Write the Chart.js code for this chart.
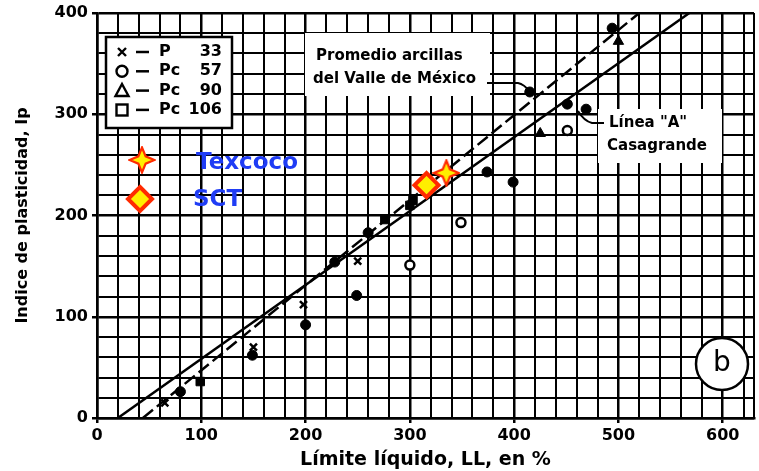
<!DOCTYPE html>
<html>
<head>
  <meta charset="UTF-8">
  <title>Carta de plasticidad</title>
  <script src="https://cdn.jsdelivr.net/npm/chart.js"></script>
  <style>
    body { margin: 0; background: #fff; }
    #carta { display: block; }
  </style>
</head>
<body>
<canvas id="carta" width="759" height="471"></canvas>
<script>
  // Límite líquido (LL) e índice de plasticidad (Ip) de cada grupo
  const lineaA_LL = [20, 568];
  const lineaA_Ip = [0, 400];
  const promedio_LL = [44, 520];
  const promedio_Ip = [0, 400];

  const p33_LL = [65, 150, 198, 250];
  const p33_Ip = [15, 70, 112, 155];
  const pc57_LL = [300, 349, 451];
  const pc57_Ip = [151, 193, 284];
  const llenos_LL = [80, 149, 200, 249, 228, 260, 374, 399, 415, 451, 469, 494];
  const llenos_Ip = [26, 62, 92, 121, 154, 183, 243, 233, 322, 310, 305, 385];
  const pc90_LL = [425, 500];
  const pc90_Ip = [281, 372];
  const pc106_LL = [99, 276, 300, 303];
  const pc106_Ip = [36, 196, 210, 215];

  const texcoco_LL = [335];
  const texcoco_Ip = [242];
  const sct_LL = [316];
  const sct_Ip = [230];

  const ticksLL = [0, 100, 200, 300, 400, 500, 600];
  const ticksIp = [0, 100, 200, 300, 400];
  const pasoCuadricula = 20;

  const FUENTE = "'DejaVu Sans', sans-serif";
  const ROJO = '#ff2a00';
  const AMARILLO = '#ffee00';
  const AZUL = '#1f3cf5';

  const pts = (xs, ys) => xs.map((x, i) => ({ x: x, y: ys[i] }));

  // estrella de cuatro puntas para Texcoco
  function estrella(size) {
    const c = document.createElement('canvas');
    c.width = c.height = size;
    const g = c.getContext('2d');
    const m = size / 2, r = size / 2 - 1.5, k = size * 0.13;
    g.beginPath();
    g.moveTo(m, m - r);
    g.lineTo(m + k, m - k);
    g.lineTo(m + r, m);
    g.lineTo(m + k, m + k);
    g.lineTo(m, m + r);
    g.lineTo(m - k, m + k);
    g.lineTo(m - r, m);
    g.lineTo(m - k, m - k);
    g.closePath();
    g.fillStyle = AMARILLO;
    g.fill();
    g.lineWidth = 2.2;
    g.strokeStyle = ROJO;
    g.stroke();
    return c;
  }
  const imgEstrella = estrella(28);

  function rombo(ctx, x, y, r) {
    ctx.beginPath();
    ctx.moveTo(x, y - r);
    ctx.lineTo(x + r, y);
    ctx.lineTo(x, y + r);
    ctx.lineTo(x - r, y);
    ctx.closePath();
    ctx.fillStyle = AMARILLO;
    ctx.fill();
    ctx.lineWidth = 4;
    ctx.strokeStyle = ROJO;
    ctx.stroke();
  }

  function cajaBlanca(ctx, x, y, w, h, borde) {
    ctx.fillStyle = '#fff';
    ctx.fillRect(x, y, w, h);
    if (borde) {
      ctx.lineWidth = 2.5;
      ctx.strokeStyle = '#000';
      ctx.strokeRect(x, y, w, h);
    }
  }

  // recuadros, textos y llamadas sobre la cuadrícula
  const anotaciones = {
    id: 'anotaciones',
    beforeDatasetsDraw(chart) {
      const ctx = chart.ctx;
      ctx.save();

      // leyenda de símbolos
      cajaBlanca(ctx, 106, 37, 126, 91, true);
      ctx.fillStyle = '#000';
      ctx.strokeStyle = '#000';
      ctx.font = 'bold 16px ' + FUENTE;
      ctx.textBaseline = 'middle';
      const filas = [['P', '33'], ['Pc', '57'], ['Pc', '90'], ['Pc', '106']];
      filas.forEach((f, i) => {
        const y = 52 + i * 19.3;
        ctx.textAlign = 'left';
        ctx.fillText(f[0], 159, y);
        ctx.textAlign = 'right';
        ctx.fillText(f[1], 222, y);
        ctx.lineWidth = 2.5;
        ctx.beginPath();
        ctx.moveTo(136, y);
        ctx.lineTo(149, y);
        ctx.stroke();
      });
      // símbolos de la leyenda
      ctx.lineWidth = 2.4;
      ctx.beginPath();
      ctx.moveTo(118, 48); ctx.lineTo(126, 56);
      ctx.moveTo(126, 48); ctx.lineTo(118, 56);
      ctx.stroke();
      ctx.beginPath();
      ctx.arc(122, 71.3, 5.5, 0, Math.PI * 2);
      ctx.stroke();
      ctx.beginPath();
      ctx.moveTo(122, 84); ctx.lineTo(128.5, 96); ctx.lineTo(115.5, 96); ctx.closePath();
      ctx.stroke();
      ctx.strokeRect(116.5, 104.5, 11, 11);

      // recuadro del promedio
      cajaBlanca(ctx, 305, 33, 185, 63, false);
      ctx.fillStyle = '#000';
      ctx.textAlign = 'left';
      ctx.font = 'bold 15px ' + FUENTE;
      ctx.fillText('Promedio arcillas', 316, 56);
      ctx.fillText('del Valle de México', 313, 79);
      ctx.lineWidth = 2;
      ctx.beginPath();
      ctx.moveTo(487, 83);
      ctx.lineTo(518, 83);
      ctx.quadraticCurveTo(524, 84, 530, 92);
      ctx.stroke();

      // recuadro de la línea A
      cajaBlanca(ctx, 598, 109, 124, 54, false);
      ctx.fillStyle = '#000';
      ctx.fillText('Línea "A"', 609, 123);
      ctx.fillText('Casagrande', 607, 146);
      ctx.beginPath();
      ctx.moveTo(604, 123);
      ctx.lineTo(592, 123);
      ctx.quadraticCurveTo(584, 121, 578, 111);
      ctx.stroke();

      // círculo "b"
      ctx.beginPath();
      ctx.arc(722, 364, 26, 0, Math.PI * 2);
      ctx.fillStyle = '#fff';
      ctx.fill();
      ctx.lineWidth = 2.5;
      ctx.strokeStyle = '#000';
      ctx.stroke();
      ctx.fillStyle = '#000';
      ctx.font = '28px ' + FUENTE;
      ctx.textAlign = 'center';
      ctx.fillText('b', 722, 364);

      ctx.restore();
    },
    afterDatasetsDraw(chart) {
      const ctx = chart.ctx;
      ctx.save();
      ctx.drawImage(imgEstrella, 142 - 14, 160 - 14);
      rombo(ctx, 140, 199, 12);
      ctx.fillStyle = AZUL;
      ctx.font = 'bold 23px ' + FUENTE;
      ctx.textAlign = 'left';
      ctx.textBaseline = 'middle';
      ctx.fillText('Texcoco', 196, 163);
      ctx.fillText('SCT', 193, 200);
      ctx.restore();
    }
  };

  const esCien = v => v % 100 === 0;

  // una línea de cuadrícula cada 20 unidades, más el borde del área
  function cuadricula(scale) {
    const ticks = [];
    for (let v = scale.min; v <= scale.max; v += pasoCuadricula) ticks.push({ value: v });
    if (ticks[ticks.length - 1].value !== scale.max) ticks.push({ value: scale.max });
    scale.ticks = ticks;
  }

  new Chart(document.getElementById('carta'), {
    type: 'scatter',
    data: {
      datasets: [
        {
          label: 'Línea "A" Casagrande',
          data: pts(lineaA_LL, lineaA_Ip),
          showLine: true,
          borderColor: '#000',
          borderWidth: 2.5,
          pointRadius: 0,
          order: 10
        },
        {
          label: 'Promedio arcillas del Valle de México',
          data: pts(promedio_LL, promedio_Ip),
          showLine: true,
          borderColor: '#000',
          borderWidth: 2.5,
          borderDash: [13, 5],
          pointRadius: 0,
          order: 10
        },
        {
          label: 'P 33',
          data: pts(p33_LL, p33_Ip),
          pointStyle: 'crossRot',
          pointRadius: 5,
          borderColor: '#000',
          borderWidth: 2.5,
          order: 5
        },
        {
          label: 'Pc 57',
          data: pts(pc57_LL, pc57_Ip),
          pointStyle: 'circle',
          pointRadius: 4.5,
          backgroundColor: '#fff',
          borderColor: '#000',
          borderWidth: 2.5,
          order: 5
        },
        {
          label: 'Pc 57 llenos',
          data: pts(llenos_LL, llenos_Ip),
          pointStyle: 'circle',
          pointRadius: 5,
          backgroundColor: '#000',
          borderColor: '#000',
          borderWidth: 1,
          order: 5
        },
        {
          label: 'Pc 90',
          data: pts(pc90_LL, pc90_Ip),
          pointStyle: 'triangle',
          pointRadius: 6,
          backgroundColor: '#000',
          borderColor: '#000',
          borderWidth: 1,
          order: 5
        },
        {
          label: 'Pc 106',
          data: pts(pc106_LL, pc106_Ip),
          pointStyle: 'rect',
          pointRadius: 6,
          backgroundColor: '#000',
          borderColor: '#000',
          borderWidth: 1,
          order: 5
        },
        {
          label: 'SCT',
          data: pts(sct_LL, sct_Ip),
          pointStyle: 'rectRot',
          pointRadius: 12,
          backgroundColor: AMARILLO,
          borderColor: ROJO,
          borderWidth: 4,
          order: 1
        },
        {
          label: 'Texcoco',
          data: pts(texcoco_LL, texcoco_Ip),
          pointStyle: imgEstrella,
          order: 0
        }
      ]
    },
    options: {
      responsive: false,
      animation: false,
      devicePixelRatio: 1,
      layout: {
        autoPadding: false,
        padding: { top: 13, right: 5, left: 0, bottom: 0 }
      },
      plugins: {
        legend: { display: false },
        tooltip: { enabled: false }
      },
      scales: {
        x: {
          type: 'linear',
          min: 0,
          max: 630,
          afterBuildTicks: cuadricula,
          afterFit(scale) {
            scale.height = 53;
            scale.paddingLeft = 0;
            scale.paddingRight = 0;
          },
          ticks: {
            autoSkip: false,
            maxRotation: 0,
            padding: 3,
            color: '#000',
            font: { family: FUENTE, size: 16, weight: 'bold' },
            callback: v => ticksLL.includes(v) ? String(v) : ''
          },
          grid: {
            color: '#000',
            lineWidth: c => (c.tick && esCien(c.tick.value)) ? 2.5 : 2,
            tickLength: 5,
            tickColor: c => (c.tick && ticksLL.includes(c.tick.value)) ? '#000' : 'rgba(0,0,0,0)'
          },
          border: { color: '#000', width: 2.5 },
          title: {
            display: true,
            text: 'Límite líquido, LL, en %',
            color: '#000',
            font: { family: FUENTE, size: 19, weight: 'bold' },
            padding: { top: 0, bottom: 0 }
          }
        },
        y: {
          type: 'linear',
          min: 0,
          max: 400,
          afterBuildTicks: cuadricula,
          afterFit(scale) {
            scale.width = 97;
            scale.paddingTop = 0;
            scale.paddingBottom = 0;
          },
          ticks: {
            autoSkip: false,
            padding: 4,
            color: '#000',
            font: { family: FUENTE, size: 16, weight: 'bold' },
            callback: v => ticksIp.includes(v) ? String(v) : ''
          },
          grid: {
            color: '#000',
            lineWidth: c => (c.tick && esCien(c.tick.value)) ? 2.5 : 2,
            tickLength: 5,
            tickColor: c => (c.tick && ticksIp.includes(c.tick.value)) ? '#000' : 'rgba(0,0,0,0)'
          },
          border: { color: '#000', width: 2.5 },
          title: {
            display: true,
            text: 'Indice de plasticidad, Ip',
            color: '#000',
            font: { family: FUENTE, size: 16, weight: 'bold' },
            padding: { top: 13, bottom: 0 }
          }
        }
      }
    },
    plugins: [anotaciones]
  });
</script>
</body>
</html>
